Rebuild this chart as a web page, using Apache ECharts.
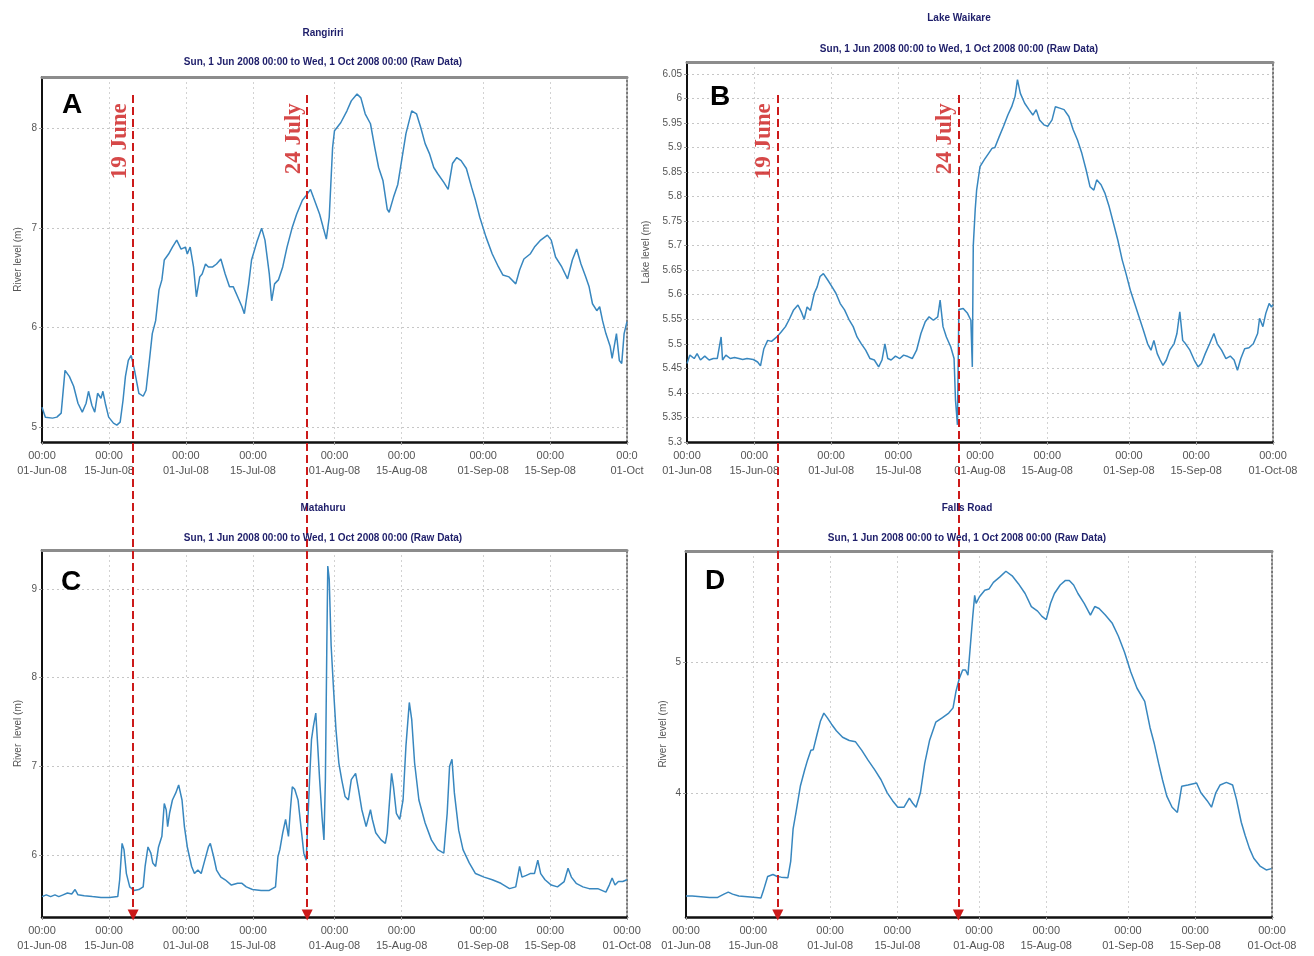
<!DOCTYPE html>
<html><head><meta charset="utf-8">
<script src="https://cdn.jsdelivr.net/npm/echarts@6/dist/echarts.min.js"></script>
<style>html,body{margin:0;padding:0;background:#fff}#c{width:1314px;height:956px}</style>
</head><body><div id="c"></div>
<script>
// ---------- DATA (days since 01-Jun-2008 00:00) ----------
const tickDays = [0, 14, 30, 44, 61, 75, 92, 106, 122];
const tickTexts = ['00:00\n01-Jun-08','00:00\n15-Jun-08','00:00\n01-Jul-08','00:00\n15-Jul-08','00:00\n01-Aug-08','00:00\n15-Aug-08','00:00\n01-Sep-08','00:00\n15-Sep-08','00:00\n01-Oct-08'];
const tickTextsA = ['00:00\n01-Jun-08','00:00\n15-Jun-08','00:00\n01-Jul-08','00:00\n15-Jul-08','00:00\n01-Aug-08','00:00\n15-Aug-08','00:00\n01-Sep-08','00:00\n15-Sep-08','00:0\n01-Oct'];
const yTicksA = [5, 6, 7, 8];
const yTicksB = [5.3, 5.35, 5.4, 5.45, 5.5, 5.55, 5.6, 5.65, 5.7, 5.75, 5.8, 5.85, 5.9, 5.95, 6, 6.05];
const yTicksC = [6, 7, 8, 9];
const yTicksD = [4, 5];

const eventLabels = ['19 June', '24 July'];
const eventDayLeft = [19.0, 55.3];
const eventDayRight = [18.9, 56.5];

const rangiririDay = [0,0.7,2.2,3.1,4.0,4.8,5.7,6.6,7.5,8.4,9.2,9.7,10.4,11.0,11.6,12.3,12.7,13.2,13.9,14.9,15.6,16.3,16.9,17.4,18.0,18.6,19.3,20.2,21.1,21.7,22.4,23.0,23.7,24.4,25.0,25.5,26.4,27.2,28.1,29.0,29.9,30.3,30.9,31.6,32.2,32.9,33.4,34.1,34.7,35.6,36.4,37.3,38.2,39.1,39.9,40.8,41.7,42.2,43.1,43.7,44.8,45.8,46.5,47.4,47.9,48.5,49.3,50.2,51.1,52.2,53.1,54.3,55.1,56.0,56.6,57.9,59.3,59.9,60.6,61.0,62.3,63.6,64.5,65.7,66.5,67.4,68.5,69.4,70.2,71.1,72.0,72.4,73.3,74.2,75.1,75.9,77.1,78.1,79.0,79.9,80.8,81.7,82.5,83.8,84.7,85.6,86.5,87.4,88.5,89.6,90.4,91.3,92.6,93.9,95.2,96.1,97.4,98.8,99.6,100.5,101.8,102.7,104.0,105.4,106.2,107.1,108.4,109.6,110.6,111.5,112.4,113.4,114.1,114.8,115.7,116.3,116.9,117.6,118.5,118.9,119.8,120.4,120.9,121.4,122.0];
const rangiririLevel = [5.20,5.10,5.09,5.10,5.14,5.57,5.51,5.41,5.24,5.15,5.24,5.36,5.22,5.15,5.34,5.29,5.36,5.24,5.10,5.04,5.02,5.05,5.27,5.51,5.67,5.72,5.57,5.34,5.31,5.37,5.67,5.94,6.07,6.38,6.48,6.68,6.74,6.81,6.88,6.79,6.81,6.74,6.81,6.61,6.31,6.51,6.54,6.64,6.61,6.61,6.64,6.69,6.54,6.41,6.41,6.31,6.21,6.14,6.44,6.68,6.86,7.00,6.88,6.54,6.27,6.44,6.48,6.61,6.81,7.01,7.14,7.28,7.33,7.39,7.31,7.14,6.89,7.11,7.81,7.98,8.06,8.18,8.28,8.35,8.31,8.15,8.05,7.81,7.61,7.48,7.19,7.16,7.31,7.44,7.71,7.95,8.18,8.15,8.01,7.85,7.75,7.61,7.55,7.46,7.39,7.65,7.71,7.68,7.60,7.41,7.28,7.11,6.91,6.74,6.61,6.53,6.51,6.44,6.58,6.69,6.74,6.81,6.88,6.93,6.88,6.71,6.61,6.49,6.68,6.79,6.64,6.51,6.41,6.24,6.17,6.21,6.07,5.94,5.81,5.69,5.94,5.67,5.64,5.94,6.06];

const waikareDay = [0,0.6,1.5,2.1,2.8,3.7,4.6,5.5,6.3,7.1,7.4,8.1,9.0,9.9,10.8,11.6,12.5,13.8,14.7,15.3,16.0,16.8,17.6,18.7,19.6,20.5,21.3,22.2,23.1,23.8,24.4,25.0,25.7,26.5,27.1,27.7,28.4,29.3,30.2,31.0,31.9,32.8,33.7,34.6,35.4,36.3,37.2,38.1,39.0,39.9,40.6,41.2,41.8,42.5,43.4,44.3,45.1,46.0,46.9,47.8,48.7,49.6,50.4,51.3,52.2,52.7,53.3,54.0,54.9,55.6,55.9,56.3,56.6,56.8,57.5,58.4,59.1,59.4,59.6,60.0,60.3,61.0,61.9,62.8,63.5,64.1,65.0,65.9,66.8,67.6,68.3,68.8,69.4,70.3,71.2,72.0,72.7,73.4,74.3,75.1,76.0,76.7,77.6,78.5,79.5,80.4,81.3,82.2,83.1,83.9,84.7,85.3,86.2,87.0,87.9,88.8,89.7,90.6,91.4,92.3,93.2,94.1,95.0,95.9,96.6,97.2,97.9,98.5,99.1,99.8,100.5,101.4,102.0,102.6,103.2,103.8,104.7,105.6,106.4,107.1,107.9,108.8,109.7,110.4,111.3,112.2,113.1,113.9,114.6,115.3,116.1,117.0,117.9,118.8,119.2,119.9,120.5,121.2,121.7,122.0];
const waikareLevel = [5.460,5.477,5.470,5.480,5.467,5.475,5.467,5.470,5.470,5.514,5.467,5.477,5.470,5.472,5.470,5.468,5.470,5.468,5.463,5.455,5.490,5.507,5.505,5.514,5.524,5.535,5.550,5.569,5.579,5.565,5.550,5.575,5.568,5.603,5.616,5.637,5.643,5.630,5.616,5.603,5.582,5.569,5.550,5.535,5.514,5.500,5.487,5.470,5.467,5.453,5.467,5.500,5.470,5.467,5.475,5.470,5.477,5.474,5.470,5.487,5.521,5.545,5.555,5.548,5.555,5.589,5.535,5.514,5.494,5.470,5.385,5.335,5.570,5.569,5.572,5.562,5.548,5.453,5.700,5.773,5.813,5.861,5.875,5.888,5.898,5.900,5.922,5.943,5.966,5.983,6.004,6.038,6.010,5.990,5.977,5.966,5.977,5.956,5.946,5.943,5.956,5.983,5.980,5.977,5.963,5.936,5.915,5.888,5.854,5.820,5.813,5.834,5.824,5.807,5.779,5.745,5.711,5.671,5.643,5.609,5.582,5.555,5.528,5.500,5.487,5.507,5.480,5.467,5.456,5.467,5.487,5.500,5.521,5.565,5.507,5.500,5.487,5.467,5.453,5.460,5.480,5.500,5.521,5.500,5.487,5.470,5.475,5.467,5.446,5.470,5.490,5.492,5.500,5.521,5.552,5.535,5.562,5.582,5.575,5.580];

const matahuruDay = [0,0.9,1.8,2.7,3.5,4.4,5.3,6.2,6.9,7.5,8.8,10.5,12.3,14.1,15.8,16.2,16.7,17.1,17.6,18.3,19.2,20.2,21.1,21.5,22.1,22.7,23.1,23.7,24.3,25.0,25.5,25.9,26.2,26.6,27.2,27.9,28.5,29.2,29.7,30.3,31.2,31.8,32.5,33.2,33.8,34.7,35.1,35.8,36.4,37.3,38.2,39.5,40.8,41.7,42.6,43.9,45.7,47.4,48.7,49.2,49.6,50.2,50.8,51.4,51.8,52.2,52.7,53.4,54.0,54.6,55.1,55.8,56.2,56.6,57.1,57.5,57.9,58.4,58.8,59.1,59.4,59.6,59.9,60.3,60.8,61.3,61.9,62.5,63.2,63.9,64.5,65.4,66.0,66.7,67.6,68.5,68.9,69.6,70.7,71.6,72.0,72.9,73.3,73.9,74.6,75.3,75.9,76.6,77.1,77.7,78.6,79.9,81.2,82.5,83.8,84.5,85.0,85.5,86.0,86.9,87.8,89.1,90.4,92.2,93.9,95.7,97.5,98.8,99.6,100.1,101.0,101.8,102.7,103.4,104.0,104.9,106.2,107.5,108.9,109.7,110.4,111.4,112.8,114.1,115.9,117.6,118.3,118.9,119.5,120.2,121.1,122.0];
const matahuruLevel = [5.53,5.55,5.53,5.55,5.53,5.55,5.57,5.56,5.61,5.55,5.54,5.53,5.52,5.52,5.53,5.72,6.13,6.06,5.79,5.64,5.60,5.61,5.64,5.87,6.09,6.02,5.91,5.87,6.09,6.21,6.58,6.51,6.32,6.47,6.62,6.70,6.79,6.62,6.32,6.09,5.87,5.79,5.83,5.79,5.91,6.09,6.13,5.98,5.83,5.75,5.72,5.66,5.68,5.68,5.64,5.61,5.60,5.60,5.64,5.98,6.06,6.25,6.40,6.21,6.51,6.77,6.74,6.62,6.32,6.02,5.94,6.85,7.30,7.45,7.60,7.23,6.85,6.43,6.17,6.85,8.36,9.26,9.11,8.36,7.87,7.42,7.04,6.85,6.66,6.62,6.85,6.92,6.74,6.51,6.32,6.51,6.40,6.25,6.17,6.13,6.25,6.92,6.77,6.47,6.40,6.62,7.23,7.72,7.53,7.04,6.62,6.36,6.17,6.06,6.02,6.47,7.00,7.08,6.70,6.28,6.06,5.91,5.79,5.75,5.72,5.68,5.62,5.64,5.87,5.75,5.77,5.79,5.79,5.94,5.79,5.72,5.66,5.64,5.70,5.85,5.75,5.68,5.64,5.62,5.62,5.58,5.66,5.74,5.66,5.70,5.70,5.72];

const fallsDay = [0,1.3,3.1,4.9,6.6,7.9,8.8,9.7,11.0,12.8,14.6,15.6,16.1,17.0,18.1,19.0,19.8,21.2,21.8,22.3,22.9,23.8,24.7,25.3,26.0,26.5,27.3,28.0,28.7,29.4,30.3,31.3,32.6,34.0,35.3,36.6,37.9,39.3,40.6,41.9,43.0,44.1,45.4,46.5,47.2,47.9,48.8,49.7,50.7,52.0,53.4,54.7,55.6,56.2,56.9,57.6,58.2,58.7,59.1,59.7,60.1,60.4,61.1,62.2,63.1,64.0,65.3,66.6,67.9,69.2,70.6,71.9,73.2,74.1,75.0,75.9,76.7,77.9,79.0,79.8,80.7,81.6,82.9,84.2,85.1,86.0,87.3,88.7,90.0,91.3,92.6,93.9,95.5,96.6,97.5,98.4,99.2,100.1,101.2,102.3,103.2,104.5,106.3,107.2,108.5,109.4,110.3,111.2,112.5,113.8,114.6,115.6,116.4,117.3,118.2,119.5,120.8,121.9];
const fallsLevel = [3.21,3.21,3.205,3.20,3.20,3.225,3.24,3.225,3.21,3.205,3.20,3.195,3.25,3.36,3.375,3.36,3.355,3.35,3.475,3.725,3.85,4.05,4.175,4.25,4.325,4.33,4.45,4.55,4.61,4.575,4.525,4.475,4.425,4.40,4.39,4.325,4.25,4.175,4.10,4.00,3.94,3.89,3.89,3.96,3.92,3.89,4.00,4.225,4.40,4.54,4.575,4.61,4.65,4.775,4.875,4.94,4.94,4.90,4.91,5.35,5.51,5.45,5.50,5.55,5.56,5.61,5.65,5.695,5.66,5.60,5.525,5.425,5.39,5.35,5.325,5.45,5.525,5.59,5.625,5.625,5.59,5.525,5.45,5.36,5.425,5.41,5.36,5.30,5.20,5.075,4.925,4.80,4.70,4.50,4.375,4.225,4.10,3.975,3.89,3.85,4.05,4.06,4.075,4.00,3.94,3.89,4.00,4.06,4.08,4.06,3.95,3.775,3.675,3.575,3.50,3.44,3.41,3.42];

// ---------- STYLE / LAYOUT ----------
const RED = '#cc1a1a';
const NAVY = '#1e1e6a';
const LINE = '#3887bf';
const FONT = '"Liberation Sans", Arial, sans-serif';

const panels = [
  {title:'Rangiriri', letter:'A', yName:'River level (m)', days:rangiririDay, vals:rangiririLevel, yTicks:yTicksA, xText:tickTextsA,
   L:{left:42, right:687, top:77, bottom:514, titleX:318, titleY:23, subY:52, letterX:57, letterY:86, yMin:4.85, yMax:8.52, nameGap:19}},
  {title:'Lake Waikare', letter:'B', yName:'Lake level (m)', days:waikareDay, vals:waikareLevel, yTicks:yTicksB, xText:tickTexts,
   L:{left:687, right:41, top:62, bottom:514, titleX:954, titleY:8, subY:39, letterX:705, letterY:78, yMin:5.3, yMax:6.074, nameGap:36}},
  {title:'Matahuru', letter:'C', yName:'River  level (m)', days:matahuruDay, vals:matahuruLevel, yTicks:yTicksC, xText:tickTexts,
   L:{left:42, right:687, top:550, bottom:39, titleX:318, titleY:498, subY:528, letterX:56, letterY:563, yMin:5.30, yMax:9.44, nameGap:19}},
  {title:'Falls Road', letter:'D', yName:'River  level (m)', days:fallsDay, vals:fallsLevel, yTicks:yTicksD, xText:tickTexts,
   L:{left:686, right:42, top:551, bottom:39, titleX:962, titleY:498, subY:528, letterX:700, letterY:562, yMin:3.05, yMax:5.85, nameGap:18}}
];
const subtitle = 'Sun, 1 Jun 2008 00:00 to Wed, 1 Oct 2008 00:00 (Raw Data)';

const grids = [], xAxes = [], yAxes = [], series = [], titles = [];
panels.forEach((p, i) => {
  const L = p.L;
  grids.push({left:L.left, right:L.right, top:L.top, bottom:L.bottom});
  titles.push({text:p.title, left:L.titleX, top:L.titleY, textAlign:'center', textStyle:{fontSize:10, fontWeight:'bold', color:NAVY, fontFamily:FONT}});
  titles.push({text:subtitle, left:L.titleX, top:L.subY, textAlign:'center', textStyle:{fontSize:10, fontWeight:'bold', color:NAVY, fontFamily:FONT}});
  titles.push({text:p.letter, left:L.letterX, top:L.letterY, textStyle:{fontSize:28, fontWeight:'bold', color:'#000', fontFamily:FONT}});
  xAxes.push({type:'value', gridIndex:i, min:0, max:122, position:'bottom',
    axisLine:{onZero:false, lineStyle:{color:'#111', width:2.5}},
    axisTick:{show:true, length:3, customValues:tickDays, lineStyle:{color:'#999'}},
    axisLabel:{customValues:tickDays, formatter:(v) => p.xText[tickDays.indexOf(v)], color:'#555', fontSize:11, lineHeight:15, margin:6, fontFamily:FONT},
    splitLine:{show:true, lineStyle:{color:'#d2d2d2', type:[2,3], width:1}}});
  xAxes.push({type:'value', gridIndex:i, min:0, max:122, position:'top',
    axisLine:{onZero:false, lineStyle:{color:'#8c8c8c', width:3}}, axisTick:{show:false}, axisLabel:{show:false}, splitLine:{show:false}});
  yAxes.push({type:'value', gridIndex:i, min:L.yMin, max:L.yMax, position:'left',
    name:p.yName, nameLocation:'middle', nameGap:L.nameGap, nameRotate:90,
    nameTextStyle:{fontSize:10, color:'#555', fontFamily:FONT},
    axisLine:{onZero:false, lineStyle:{color:'#111', width:2}},
    axisTick:{show:true, length:3, customValues:p.yTicks, lineStyle:{color:'#999'}},
    axisLabel:{customValues:p.yTicks, color:'#555', fontSize:10, margin:5, fontFamily:FONT},
    splitLine:{show:true, lineStyle:{color:'#c6c6c6', type:[2,3], width:1}}});
  yAxes.push({type:'value', gridIndex:i, min:L.yMin, max:L.yMax, position:'right',
    axisLine:{show:true, onZero:false, lineStyle:{color:'#555', width:1.5, type:[2,2]}}, axisTick:{show:false}, axisLabel:{show:false}, splitLine:{show:false}});
  series.push({type:'line', xAxisIndex:2*i, yAxisIndex:2*i, showSymbol:false, symbol:'none', z:3,
    lineStyle:{color:LINE, width:1.5}, data:p.days.map((d, k) => [d, p.vals[k]])});
});

// event overlays spanning both rows of each column
[[eventDayLeft, 42, 687], [eventDayRight, 687, 41]].forEach(([ev, gl, gr], j) => {
  const gi = 4 + j;
  grids.push({left:gl, right:gr, top:95, bottom:41});
  xAxes.push({type:'value', gridIndex:gi, min:0, max:122, show:false});
  yAxes.push({type:'value', gridIndex:gi, min:0, max:1, show:false});
  series.push({type:'scatter', xAxisIndex:8 + j, yAxisIndex:8 + j, symbolSize:0, z:20, silent:true,
    data:ev.map(d => [d, 0.99]),
    label:{show:true, position:'inside', rotate:90, align:'right', verticalAlign:'bottom', padding:[0,0,2,0],
      formatter:(prm) => eventLabels[prm.dataIndex], color:RED, fontFamily:'"Liberation Serif", "Times New Roman", serif', fontWeight:'bold', fontSize:23},
    markLine:{silent:true, symbol:['none','triangle'], symbolSize:11, label:{show:false},
      lineStyle:{color:RED, width:2, type:[8,4], opacity:1},
      emphasis:{disabled:true},
      data:ev.map(d => [{coord:[d, 1]}, {coord:[d, 0]}])}});
});

const chart = echarts.init(document.getElementById('c'), null, {renderer:'canvas'});
chart.setOption({animation:false, backgroundColor:'#fff', title:titles, grid:grids, xAxis:xAxes, yAxis:yAxes, series:series});
</script></body></html>
